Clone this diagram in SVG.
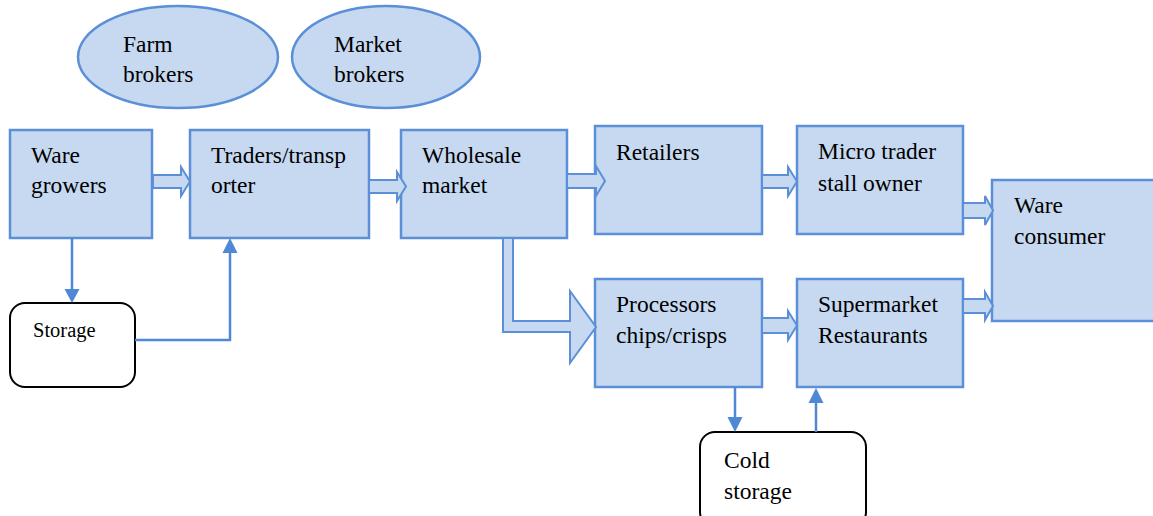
<svg xmlns="http://www.w3.org/2000/svg" width="1153" height="516" viewBox="0 0 1153 516">
<style>
.box{fill:#C6D9F1;stroke:#5B8FD8;stroke-width:2.5}
.store{fill:#fff;stroke:#000;stroke-width:2}
.barrow{fill:#C6D9F1;stroke:#5B8FD8;stroke-width:2}
.line{fill:none;stroke:#4F89D6;stroke-width:2.5}
.head{fill:#4F89D6}
text{font-family:Liberation Serif, DejaVu Serif, Times New Roman, serif;font-size:23.5px;fill:#000}
text.small{font-size:20.5px}
</style>
<rect width="1153" height="516" fill="#fff"/>
<g id="farm-brokers"><ellipse class="box" cx="178" cy="57" rx="100" ry="51"/><text x="123" y="52">Farm</text><text x="123" y="82">brokers</text></g>
<g id="market-brokers"><ellipse class="box" cx="386" cy="57" rx="94" ry="51"/><text x="334" y="52">Market</text><text x="334" y="82">brokers</text></g>
<g id="ware-growers"><rect class="box" x="10" y="130" width="142" height="108"/><text x="31" y="163">Ware</text><text x="31" y="193">growers</text></g>
<g id="traders"><rect class="box" x="190" y="130" width="179" height="108"/><text x="211" y="163">Traders/transp</text><text x="211" y="193">orter</text></g>
<g id="wholesale"><rect class="box" x="401" y="130" width="166" height="108"/><text x="422" y="163">Wholesale</text><text x="422" y="193">market</text></g>
<g id="retailers"><rect class="box" x="595" y="126" width="167" height="108"/><text x="616" y="160">Retailers</text></g>
<g id="micro-trader"><rect class="box" x="797" y="126" width="166" height="108"/><text x="818" y="159">Micro trader</text><text x="818" y="191">stall owner</text></g>
<g id="ware-consumer"><rect class="box" x="992" y="180" width="170" height="141"/><text x="1014" y="213">Ware</text><text x="1014" y="244">consumer</text></g>
<g id="processors"><rect class="box" x="595" y="279" width="167" height="108"/><text x="616" y="312">Processors</text><text x="616" y="343">chips/crisps</text></g>
<g id="supermarket"><rect class="box" x="797" y="279" width="166" height="108"/><text x="818" y="312">Supermarket</text><text x="818" y="343">Restaurants</text></g>
<g id="storage"><rect class="store" x="10" y="303" width="125" height="84" rx="15"/><text class="small" x="33" y="337">Storage</text></g>
<g id="cold-storage"><rect class="store" x="700" y="432" width="166" height="95" rx="15"/><text x="724" y="468">Cold</text><text x="724" y="499">storage</text></g>
<g id="connectors">
<polygon class="barrow" points="153,175 181,175 181,167 190,181.5 181,196 181,188 153,188"/>
<polygon class="barrow" points="369,180 397,180 397,172 406,186.5 397,201 397,193 369,193"/>
<polygon class="barrow" points="567,174 596,174 596,166 605,181 596,196 596,188 567,188"/>
<polygon class="barrow" points="762,175 788,175 788,167 797,181.5 788,196 788,188 762,188"/>
<polygon class="barrow" points="963,203 985,203 985,196 993,210.5 985,225 985,218 963,218"/>
<polygon class="barrow" points="963,299 985,299 985,292 993,306 985,320 985,313 963,313"/>
<polygon class="barrow" points="762,318 788,318 788,311 797,325.5 788,340 788,333 762,333"/>
<polygon class="barrow" points="503,238 513,238 513,321 570,321 570,291 596,327 570,363 570,332 503,332"/>
<line class="line" x1="72" y1="238" x2="72" y2="290"/>
<polygon class="head" points="64.5,289 79.5,289 72,303"/>
<polyline class="line" points="135,340 230,340 230,252"/>
<polygon class="head" points="222.5,253 237.5,253 230,238"/>
<line class="line" x1="735" y1="387" x2="735" y2="419"/>
<polygon class="head" points="727.5,417 742.5,417 735,432"/>
<line class="line" x1="816" y1="432" x2="816" y2="401"/>
<polygon class="head" points="808.5,403 823.5,403 816,388"/>
</g>
</svg>
